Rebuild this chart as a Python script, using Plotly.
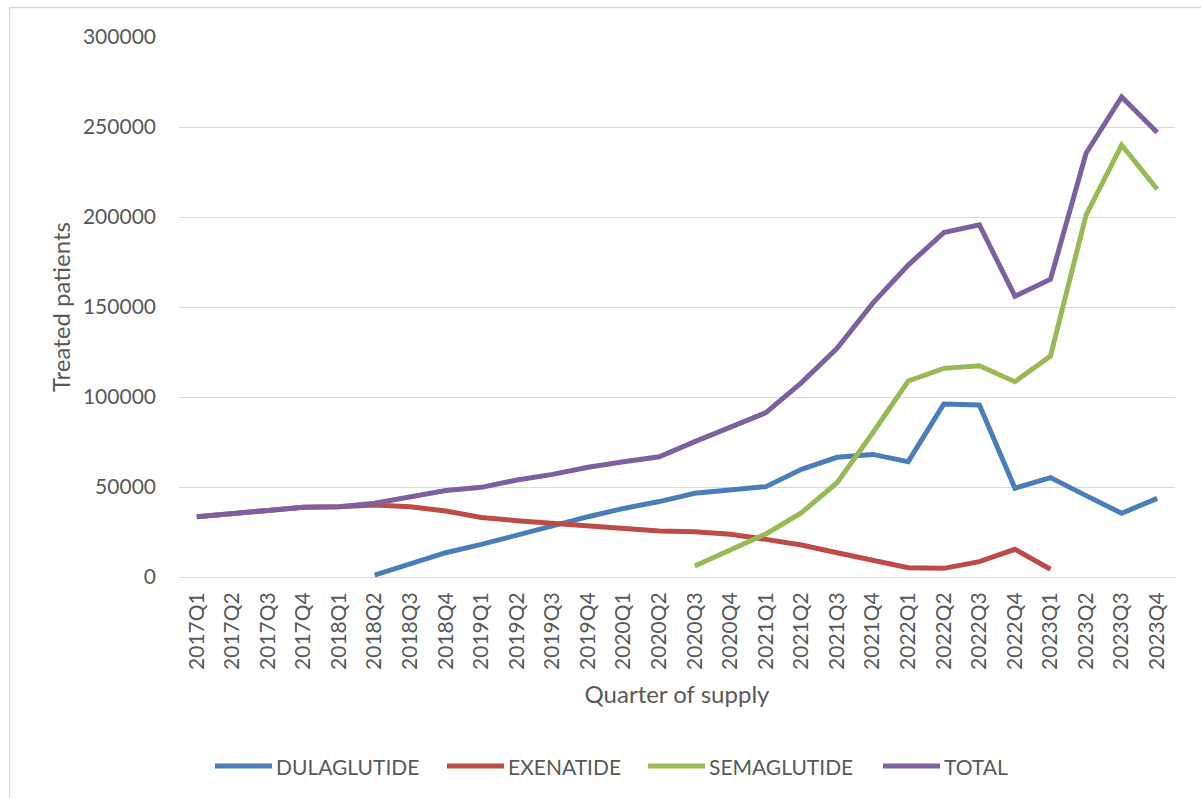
import plotly.graph_objects as go

quarters = [f"{y}Q{q}" for y in range(2017, 2024) for q in range(1, 5)]

dulaglutide = [None, None, None, None, None,
               1100, 7600, 13500, 18100, 23300, 28000, 33500, 38100, 41900,
               46500, 48300, 50200, 59800, 66500, 68100, 64100, 96100, 95600,
               49300, 55200, 45200, 35400, 43700]
exenatide = [33500, 35500, 37000, 38700, 39000,
             40000, 39000, 36700, 33100, 31300, 29800, 28500, 26500, 25600,
             25200, 23700, 20900, 17800, 13500, 9400, 5200, 4800, 8500,
             15400, 4300, None, None, None]
semaglutide = [None] * 14 + [6100, 15000, 23900, 35700, 52400, 80000, 108900,
                             115900, 117400, 108500, 122800, 201100, 240000, 215400]
total = [33500, 35500, 37000, 38700, 39000,
         41000, 44300, 48000, 49800, 53900, 57000, 61000, 64000, 66800,
         75200, 83500, 91300, 108000, 127000, 152000, 173300, 191300, 195600,
         156000, 165400, 235400, 266700, 247000]

series = [
    ("DULAGLUTIDE", dulaglutide, "#4A7EBB"),
    ("EXENATIDE", exenatide, "#BE4B48"),
    ("SEMAGLUTIDE", semaglutide, "#98B954"),
    ("TOTAL", total, "#7D60A0"),
]

font_family = "Lato, 'Open Sans', sans-serif"
text_color = "#595959"

W, H = 1201, 798
ML, MR, MT, MB = 179, 26, 37, 221
PW, PH = W - ML - MR, H - MT - MB


def px(x):
    """Pixel column -> paper x."""
    return (x - ML) / PW


def py(y):
    """Pixel row -> paper y."""
    return (H - MB - y) / PH


fig = go.Figure()
for name, values, color in series:
    fig.add_trace(go.Scatter(
        x=quarters, y=values, name=name, mode="lines",
        line=dict(color=color, width=5),
        connectgaps=False, showlegend=False,
    ))

# Legend row below the axis: a short line sample followed by the series name
legend_starts = [215, 447, 648, 883]
legend_y = 766
shapes = []
annotations = []
for (name, _, color), x0 in zip(series, legend_starts):
    shapes.append(dict(type="line", xref="paper", yref="paper",
                       x0=px(x0), x1=px(x0 + 57), y0=py(legend_y), y1=py(legend_y),
                       line=dict(color=color, width=5)))
    annotations.append(dict(text=name, xref="paper", yref="paper",
                            x=px(x0 + 59), y=py(legend_y), xanchor="left", yanchor="middle",
                            showarrow=False, font=dict(size=21, color=text_color)))

# Chart frame (left and top edges)
shapes += [
    dict(type="line", xref="paper", yref="paper",
         x0=px(9.5), x1=px(9.5), y0=py(H), y1=py(7),
         line=dict(color="#D9D9D9", width=1.3)),
    dict(type="line", xref="paper", yref="paper",
         x0=px(9.5), x1=px(W), y0=py(7.5), y1=py(7.5),
         line=dict(color="#D9D9D9", width=1.3)),
]

fig.update_layout(
    width=W, height=H,
    paper_bgcolor="white", plot_bgcolor="white",
    margin=dict(l=ML, r=MR, t=MT, b=MB, autoexpand=False),
    font=dict(family=font_family, size=21, color=text_color),
    showlegend=False,
    xaxis=dict(
        type="category", range=[-0.5, len(quarters) - 0.5],
        tickangle=-90, showgrid=False, automargin=False,
        showline=False, ticks="", ticklabelstandoff=10,
        tickfont=dict(size=21),
        title=dict(text="Quarter of supply", font=dict(size=24), standoff=17),
    ),
    yaxis=dict(
        range=[0, 300000], tickvals=[0, 50000, 100000, 150000, 200000, 250000, 300000],
        ticktext=["0", "50000", "100000", "150000", "200000", "250000", "300000"],
        showgrid=True, gridcolor="#D9D9D9", gridwidth=1.3, automargin=False,
        zeroline=True, zerolinecolor="#D9D9D9", zerolinewidth=1.3,
        showline=False, ticks="", ticklabelstandoff=22,
        tickfont=dict(size=21),
        title=dict(text="Treated patients", font=dict(size=24), standoff=5),
    ),
    shapes=shapes,
    annotations=annotations,
)

fig.write_html("out.html")
